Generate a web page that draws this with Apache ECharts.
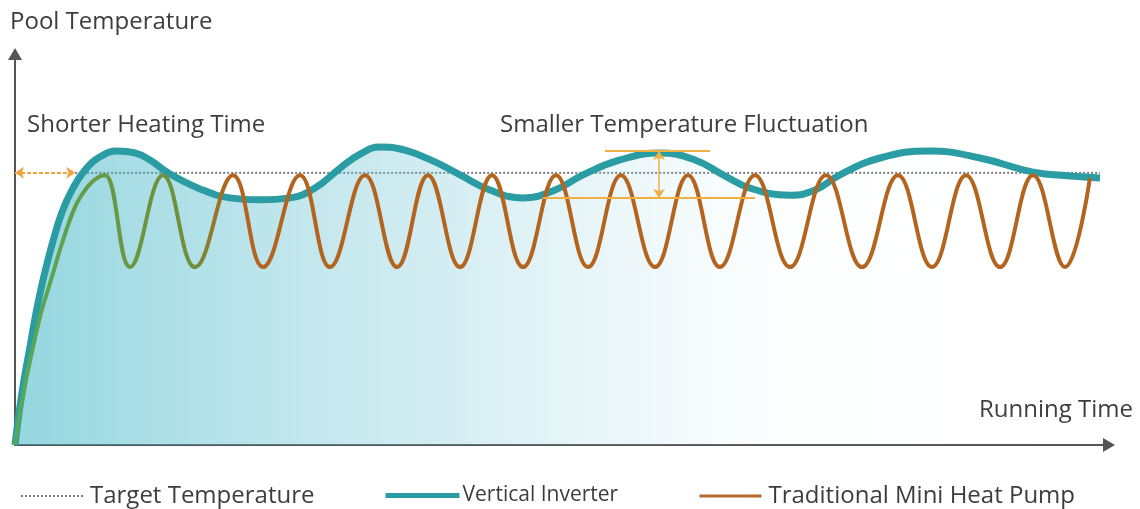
<!DOCTYPE html>
<html>
<head>
<meta charset="utf-8">
<script src="https://cdn.jsdelivr.net/npm/echarts@6/dist/echarts.min.js"></script>
<style>
html,body{margin:0;padding:0;background:#fff;}
#chart{width:1140px;height:509px;}
</style>
</head>
<body>
<div id="chart"></div>
<script>
// ---- data (time units 0..100, temperature units 0..100) ----
var inverterTime = [0, 0.37, 0.82, 1.37, 1.92, 2.56, 3.38, 4.30, 5.30, 6.40, 7.77, 9.32, 10.97, 12.34, 13.99, 16.91, 19.65, 22.39, 25.14, 27.42, 29.71, 31.54, 33.36, 35.65, 38.39, 40.68, 43.42, 46.44, 49.36, 51.92, 55.30, 58.96, 62.16, 64.72, 67.18, 70.84, 73.13, 75.41, 79.07, 83.64, 88.21, 93.05, 96.44, 99.18];
var inverterTemp = [0, 8.2, 16.6, 25.1, 33.8, 42.2, 51.2, 59.6, 65.7, 70.3, 73.7, 75.2, 74.7, 72.9, 69.6, 65.5, 63.2, 62.7, 63.2, 65.7, 70.8, 74.4, 76.2, 75.4, 72.4, 69.1, 65.2, 63.2, 65.2, 69.1, 72.9, 74.7, 72.9, 69.1, 65.7, 63.9, 65.2, 69.1, 73.4, 75.2, 73.4, 69.8, 68.8, 68.3];

var pumpTime = [0, 0.46, 1.01, 1.65, 2.38, 3.29, 4.39, 5.58, 6.67, 7.50, 8.23, 10.51, 13.53, 16.45, 19.93, 22.67, 26.05, 28.79, 31.99, 34.92, 37.75, 40.68, 43.60, 46.44, 49.45, 52.38, 55.39, 58.50, 61.52, 64.44, 67.64, 70.84, 74.13, 77.42, 80.71, 83.82, 86.93, 90.04, 93.05, 95.98, 98.26];
var pumpTemp = [0, 8.2, 16.6, 25.1, 33.8, 42.2, 52.4, 61.4, 66.2, 68.3, 69.0, 45.5, 69.0, 45.5, 69.0, 45.5, 69.0, 45.5, 69.0, 45.5, 69.0, 45.5, 69.0, 45.5, 69.0, 45.5, 69.0, 45.5, 69.0, 45.5, 69.0, 45.5, 69.0, 45.5, 69.0, 45.5, 69.0, 45.5, 69.0, 45.5, 68.3];

var targetTime = [5.5, 99.18];
var targetTemp = 69.6;

var heatingArrowTime = [0, 5.5];
var fluctTopTemp = 75.2, fluctTopTime = [53.93, 63.53];
var fluctBottomTemp = 63.2, fluctBottomTime = [48.26, 67.64];
var fluctArrowTime = 58.87;

var seriesNames = ['Target Temperature', 'Vertical Inverter', 'Traditional Mini Heat Pump'];
var texts = {
  yName: 'Pool Temperature',
  xName: 'Running Time',
  heating: 'Shorter Heating Time',
  fluct: 'Smaller Temperature Fluctuation'
};

function zip(a, b) { return a.map(function (v, i) { return [v, b[i]]; }); }

var chart = echarts.init(document.getElementById('chart'), null, {renderer: 'canvas'});
var FONT = '"Open Sans", "Noto Sans", sans-serif';
var TXT = '#3d3d3d';
var GOLD = '#f0b040';

var option = {
  animation: false,
  backgroundColor: '#ffffff',
  grid: {left: 15, right: 31, top: 54, bottom: 64},
  xAxis: {
    type: 'value', min: 0, max: 100,
    axisLine: {show: true, onZero: false, symbol: ['none', 'triangle'], symbolSize: [14, 12], lineStyle: {color: '#555', width: 2}},
    axisTick: {show: false}, axisLabel: {show: false}, splitLine: {show: false}
  },
  yAxis: {
    type: 'value', min: 0, max: 100,
    axisLine: {show: true, onZero: false, symbol: ['none', 'triangle'], symbolSize: [14, 12], lineStyle: {color: '#555', width: 2}},
    axisTick: {show: false}, axisLabel: {show: false}, splitLine: {show: false}
  },
  legend: [
    {data: [seriesNames[0]], left: 15, top: 479, itemWidth: 63, itemHeight: 14, itemGap: 0,
     itemStyle: {opacity: 0},
     textStyle: {fontFamily: FONT, fontSize: 24, color: TXT, padding: [0, 0, 0, 1]},
     lineStyle: {color: '#7a7a7a', width: 2, type: [2, 2]}},
    {data: [seriesNames[1]], left: 378, top: 480, itemWidth: 74, itemHeight: 14, itemGap: 0,
     itemStyle: {opacity: 0},
     textStyle: {fontFamily: FONT, fontSize: 21, color: TXT, padding: [0, 0, 0, -2]},
     lineStyle: {color: '#2a9ca3', width: 5}},
    {data: [seriesNames[2]], left: 693, top: 479, itemWidth: 62, itemHeight: 14, itemGap: 0,
     itemStyle: {opacity: 0},
     textStyle: {fontFamily: FONT, fontSize: 24, color: TXT, padding: [0, 0, 0, 2]},
     lineStyle: {color: '#b8672a', width: 3}}
  ],
  series: [
    {
      name: seriesNames[0], type: 'line', z: 1, symbol: 'none', silent: true,
      data: targetTime.map(function (t) { return [t, targetTemp]; }),
      lineStyle: {color: '#7a7a7a', width: 2, type: [2, 2]}
    },
    {
      name: seriesNames[1], type: 'line', z: 2, symbol: 'none', smooth: 0.45, silent: true,
      data: zip(inverterTime, inverterTemp),
      lineStyle: {color: '#2a9ca3', width: 7},
      areaStyle: {
        origin: 'start',
        color: new echarts.graphic.LinearGradient(0, 0, 1, 0, [
          {offset: 0, color: 'rgba(55,178,195,0.76)'},
          {offset: 0.2, color: 'rgba(85,188,204,0.6)'},
          {offset: 0.4, color: 'rgba(115,198,214,0.44)'},
          {offset: 0.58, color: 'rgba(155,213,226,0.24)'},
          {offset: 0.72, color: 'rgba(200,235,242,0.07)'},
          {offset: 1, color: 'rgba(255,255,255,0)'}
        ])
      }
    },
    {
      name: seriesNames[2], type: 'line', z: 3, symbol: 'none', smooth: 0.42, silent: true,
      data: zip(pumpTime, pumpTemp),
      itemStyle: {color: '#b8672a'},
      lineStyle: {
        width: 4,
        color: new echarts.graphic.LinearGradient(0, 0, 1, 0, [
          {offset: 0, color: '#54aa5c'},
          {offset: 0.08, color: '#679a45'},
          {offset: 0.17, color: '#708f3c'},
          {offset: 0.2, color: '#b3641f'},
          {offset: 1, color: '#b3641f'}
        ])
      }
    },
    {
      name: 'annotations', type: 'line', z: 6, symbol: 'none', silent: true,
      data: [],
      markLine: {
        silent: true, animation: false,
        label: {show: false},
        symbolSize: 9,
        data: [
          [{coord: [heatingArrowTime[0], targetTemp], symbol: 'arrow', lineStyle: {color: '#f2a23c', width: 2, type: [4, 2]}},
           {coord: [heatingArrowTime[1], targetTemp], symbol: 'arrow'}],
          [{coord: [fluctTopTime[0], fluctTopTemp], symbol: 'none', lineStyle: {color: GOLD, width: 2, type: 'solid'}},
           {coord: [fluctTopTime[1], fluctTopTemp], symbol: 'none'}],
          [{coord: [fluctBottomTime[0], fluctBottomTemp], symbol: 'none', lineStyle: {color: GOLD, width: 2, type: 'solid'}},
           {coord: [fluctBottomTime[1], fluctBottomTemp], symbol: 'none'}],
          [{coord: [fluctArrowTime, fluctTopTemp], symbol: 'arrow', lineStyle: {color: GOLD, width: 1.5, type: 'solid'}},
           {coord: [fluctArrowTime, fluctBottomTemp], symbol: 'arrow'}]
        ]
      }
    }
  ],
  graphic: [
    {type: 'text', silent: true, style: {text: texts.yName, x: 10, y: 22, textVerticalAlign: 'middle', font: '24px ' + FONT, fill: TXT}},
    {type: 'text', silent: true, style: {text: texts.heating, x: 27, y: 125, textVerticalAlign: 'middle', font: '24px ' + FONT, fill: TXT}},
    {type: 'text', silent: true, style: {text: texts.fluct, x: 500, y: 125, textVerticalAlign: 'middle', font: '24px ' + FONT, fill: TXT}},
    {type: 'text', silent: true, style: {text: texts.xName, x: 1133, y: 410, textAlign: 'right', textVerticalAlign: 'middle', font: '24px ' + FONT, fill: TXT}}
  ]
};
chart.setOption(option);
</script>
</body>
</html>
